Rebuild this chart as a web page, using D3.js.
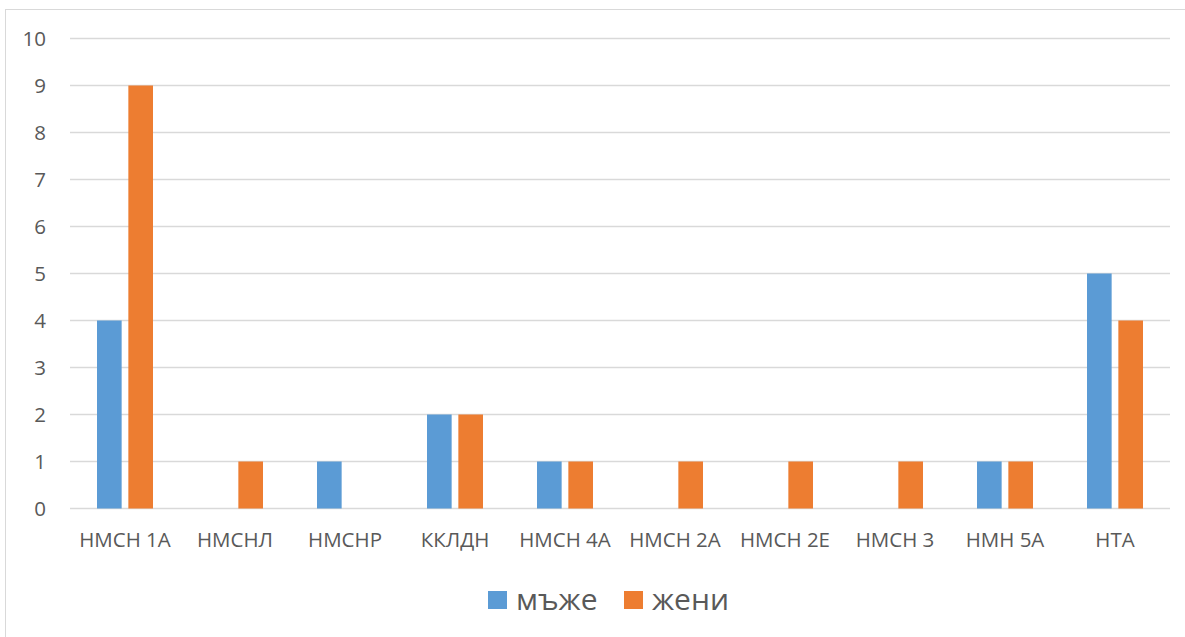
<!DOCTYPE html>
<html>
<head>
<meta charset="utf-8">
<script src="https://cdn.jsdelivr.net/npm/d3@7"></script>
<style>
  html, body { margin: 0; padding: 0; background: #fff; }
  svg { display: block; }
  text { font-family: "Open Sans", "Noto Sans", sans-serif; fill: #595959; }
</style>
</head>
<body>
<svg id="chart" width="1185" height="637"></svg>
<script>
// Categories and per-series counts
const categories = ["НМСН 1А", "НМСНЛ", "НМСНР", "ККЛДН", "НМСН 4А", "НМСН 2А", "НМСН 2Е", "НМСН 3", "НМН 5А", "НТА"];
const seriesNames = ["мъже", "жени"];
const men   = [4, 0, 1, 2, 1, 0, 0, 0, 1, 5];
const women = [9, 1, 0, 2, 1, 1, 1, 1, 1, 4];
const yTicks = [0, 1, 2, 3, 4, 5, 6, 7, 8, 9, 10];
const colors = ["#5B9BD5", "#ED7D31"];

const svg = d3.select("#chart");

// Outer chart frame (right and bottom edges fall outside the view)
svg.append("rect")
  .attr("x", 5.5).attr("y", 9.5)
  .attr("width", 1200).attr("height", 700)
  .attr("fill", "#fff")
  .attr("stroke", "#D9D9D9").attr("stroke-width", 1);

const plot = { left: 70, right: 1170, top: 38.5, bottom: 508.5 };

const x = d3.scaleBand().domain(categories).range([plot.left, plot.right]).padding(0);
const y = d3.scaleLinear().domain([0, 10]).range([plot.bottom, plot.top]);

// Series positions inside each category
const groupW = 56;
const xs = d3.scaleBand().domain(seriesNames)
  .range([(x.bandwidth() - groupW) / 2, (x.bandwidth() + groupW) / 2])
  .paddingInner(0.2137).paddingOuter(0);

// Horizontal gridlines
svg.append("g").selectAll("line").data(yTicks).join("line")
  .attr("x1", plot.left).attr("x2", plot.right)
  .attr("y1", d => y(d)).attr("y2", d => y(d))
  .attr("stroke", "#D9D9D9").attr("stroke-width", 1.3);

// Y axis labels
const yAxis = d3.axisLeft(y).tickValues(yTicks).tickSize(0).tickPadding(0).tickFormat(d3.format("d"));
const gy = svg.append("g").attr("transform", "translate(46,0)").call(yAxis);
gy.select(".domain").remove();
gy.selectAll("text")
  .style("font-family", "\"Open Sans\", sans-serif")
  .style("font-size", "20.5px").attr("fill", "#595959")
  .attr("dy", "0.36em");

// Bars
const data = categories.map((c, i) => ({ cat: c, values: [men[i], women[i]] }));
const groups = svg.append("g").selectAll("g").data(data).join("g")
  .attr("transform", d => `translate(${x(d.cat)},0)`);
groups.selectAll("rect")
  .data(d => d.values.map((v, j) => ({ name: seriesNames[j], v, j })))
  .join("rect")
  .attr("x", d => xs(d.name))
  .attr("width", xs.bandwidth())
  .attr("y", d => y(d.v))
  .attr("height", d => y(0) - y(d.v))
  .attr("fill", d => colors[d.j]);

// Category labels
const xAxis = d3.axisBottom(x).tickSize(0).tickPadding(0);
const gx = svg.append("g").attr("transform", `translate(0,${plot.bottom})`).call(xAxis);
gx.select(".domain").remove();
gx.selectAll("text")
  .style("font-family", "\"Open Sans\", sans-serif")
  .style("font-size", "20.5px").attr("fill", "#595959")
  .attr("dy", null).attr("y", 38.5);

// Legend
const legendItems = [
  { name: seriesNames[0], color: colors[0], x: 488 },
  { name: seriesNames[1], color: colors[1], x: 624 }
];
const lg = svg.append("g").selectAll("g").data(legendItems).join("g")
  .attr("transform", d => `translate(${d.x},591)`);
lg.append("rect").attr("width", 19).attr("height", 18).attr("fill", d => d.color);
lg.append("text").attr("x", 28).attr("y", 18.5)
  .style("font-size", "30px").text(d => d.name);
</script>
</body>
</html>
